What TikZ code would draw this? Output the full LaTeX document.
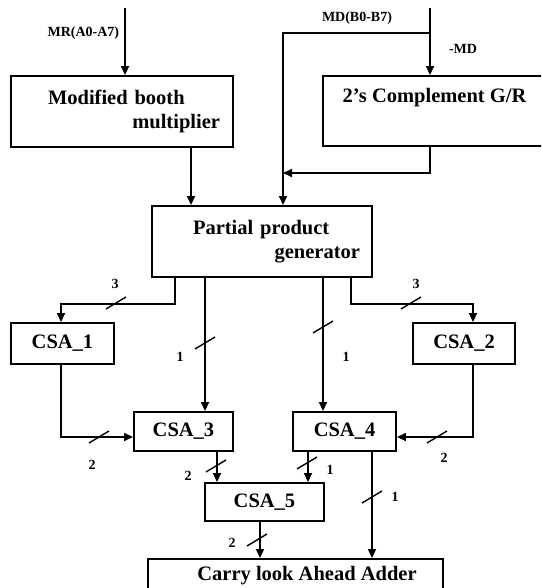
\documentclass[tikz,border=0pt]{standalone}
\usepackage{fontspec}
\setmainfont{Liberation Serif}
\usetikzlibrary{arrows.meta,calc}

\begin{document}
\begin{tikzpicture}[
    x=1pt,y=-1pt,
    line width=1.7pt,
    box/.style={draw,line width=1.9pt,inner sep=0pt,font=\fontsize{20.5}{24}\selectfont\bfseries},
    csabox/.style={box,minimum width=101pt,minimum height=40pt},
    tag/.style={font=\fontsize{14}{16}\selectfont\bfseries,inner sep=0pt},
    arrow/.style={-{Triangle[length=9pt,width=8pt]}},
    tick/.style={line width=1.4pt}
  ]
  \useasboundingbox (0,0) rectangle (541,588);
  \clip (0,0) rectangle (541,588);

  % input blocks
  \node[box,minimum width=222pt,minimum height=71pt,text width=196pt,align=left] (booth) at (122,111.5)
    {\hspace*{24pt}Modified booth\\\hspace*{\fill}multiplier};
  \node[box,minimum width=223pt,minimum height=70pt,align=center] (twos) at (434.5,111)
    {2’s Complement G/R\\\strut};
  \node[box,minimum width=220pt,minimum height=71pt,text width=196pt,align=left] (pp) at (262,241.5)
    {\hspace*{29pt}Partial product\\\hspace*{\fill}generator};

  % adder tree
  \node[csabox,minimum width=103pt,minimum height=41pt] (csa1) at (62.5,343.5) {CSA\_1};
  \node[csabox,minimum width=102pt,minimum height=41pt] (csa2) at (464,343.5) {CSA\_2};
  \node[csabox,minimum width=99pt,minimum height=39pt] (csa3) at (183.5,431.5) {CSA\_3};
  \node[csabox,minimum width=103pt,minimum height=39pt] (csa4) at (344.5,431.5) {CSA\_4};
  \node[csabox,minimum width=119pt,minimum height=38pt] (csa5) at (264.5,502) {CSA\_5};
  \node[box,minimum width=295pt,minimum height=60pt,align=center] (cla) at (295.5,589)
    {\hspace*{23pt}Carry look Ahead Adder\\\strut};

  % input labels
  \node[tag,anchor=east] (mrlab) at (120,33) {MR(A0-A7)};
  \node[tag] (mdlab) at (357,18) {MD(B0-B7)};
  \node[tag] (neglab) at (463,49) {-MD};

  \coordinate (mrin) at (125,8);
  \coordinate (mdin) at (430,8);
  \coordinate (mdfork) at (430,33);
  \coordinate (mdmerge) at (283,173);

  \draw[arrow] (mrin) -- (mrin |- booth.north);
  \draw[arrow] (booth.south -| 191,0) -- (pp.north -| 191,0);
  \draw[arrow] (mdin) -- (mdin |- twos.north);
  \draw[arrow] (mdfork) -| (pp.north -| mdmerge);
  \draw[arrow] (twos.south -| mdin) |- (mdmerge);

  \draw[arrow] (pp.south -| 175,0) -- ++(0,26) -| (csa1.north -| 61,0);
  \draw[arrow] (pp.south -| 205,0) -- (csa3.north -| 205,0);
  \draw[arrow] (pp.south -| 323,0) -- (csa4.north -| 323,0);
  \draw[arrow] (pp.south -| 351,0) -- ++(0,26) -| (csa2.north -| 473,0);
  \draw[arrow] (csa1.south -| 61,0) |- (csa3.west |- 0,437);
  \draw[arrow] (csa2.south -| 473,0) |- (csa4.east |- 0,437);
  \draw[arrow] (csa3.south -| 217,0) -- (csa5.north -| 217,0);
  \draw[arrow] (csa4.south -| 308,0) -- (csa5.north -| 308,0);
  \draw[arrow] (csa4.south -| 372,0) -- (cla.north -| 372,0);
  \draw[arrow] (csa5.south -| 260,0) -- (cla.north -| 260,0);

  % bus widths
  \foreach \x/\y/\lx/\ly/\w [count=\i] in {116/303/115/284/3, 205/343/180/357/1,
      323/327/346/357/1, 411/303/416/284/3, 99/437/92/465/2, 437/437/444/458/2,
      216/466/188/476/2, 307/463/330/470/1, 372/497/395/497/1, 257/540/232/543/2}
  {
    \draw[tick] (\x-10,\y+6) -- (\x+10,\y-6);
    \node[tag] (bw\i) at (\lx,\ly) {\w};
  }
\end{tikzpicture}
\end{document}
